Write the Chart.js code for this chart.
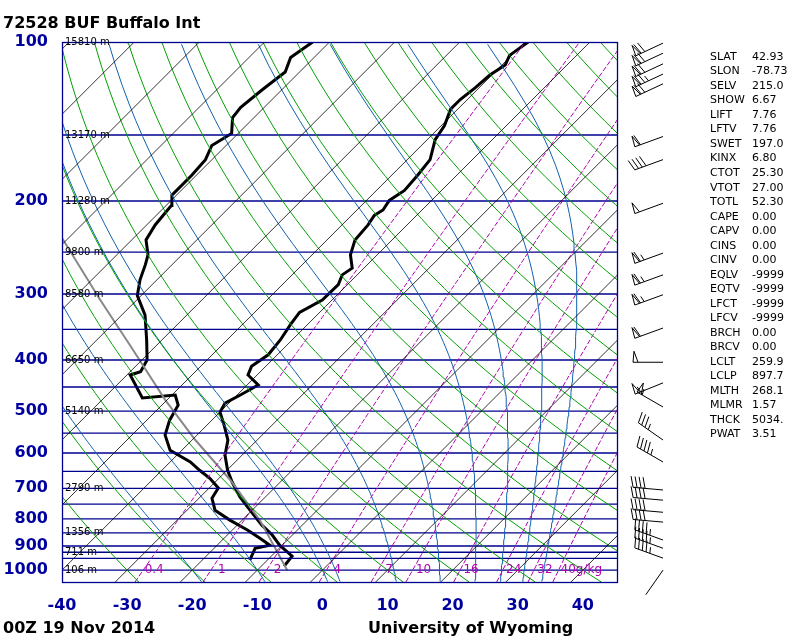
<!DOCTYPE html>
<html><head><meta charset="utf-8">
<script src="https://cdn.jsdelivr.net/npm/chart.js@4.4.1/dist/chart.umd.min.js"></script>
<style>html,body{margin:0;background:#fff}#wrap{width:800px;height:640px}</style>
</head><body><div id="wrap"><canvas id="c"></canvas></div>
<script>
// Sounding data (pressure hPa, temperature C)
const tempP = [983,941,897,858,822,770,727,681,647,606,567,531,502,483,466,446,427,411,391,367,343,325,308,288,276,268,253,237,222,213,208,199.5,191,179,167,153,144,134,128.5,122,115.5,110.5,106,100];
const tempT = [-6.5,-6.8,-10.4,-13.1,-16.2,-20.3,-23.9,-27.4,-29.9,-32.6,-34.5,-37.4,-40.0,-40.6,-39.5,-38.3,-41.4,-42.2,-41.4,-41.8,-42.6,-43.1,-41.5,-41.4,-42.3,-41.8,-44.1,-45.7,-46.0,-46.5,-46.0,-46.5,-45.7,-46.0,-46.5,-48.8,-49.5,-51.1,-51.1,-50.6,-50.3,-49.5,-50.3,-49.5];
const dewP = [957,909,897,870,840,804,770,731,699,670,647,624,593,555,520,487,466,472,427,421,400,367,329,302,282,264,253,237,222,204,195,179,167,157,149,139,133,123,114,107,100];
const dewT = [-12.7,-13.7,-11.9,-14.5,-17.6,-21.9,-25.7,-28.0,-28.6,-31.4,-34.2,-36.9,-41.8,-44.9,-46.5,-47.5,-49.5,-54.1,-59.5,-58.4,-59.2,-62.3,-66.4,-70.6,-72.6,-74.1,-75.2,-77.8,-78.7,-79.2,-80.7,-80.7,-81.0,-82.2,-81.0,-83.3,-83.6,-83.0,-82.2,-83.6,-82.6];
const parcelP = [1000,804,675,567,476,375,308,235];
const parcelT = [-5.4,-17.3,-28.0,-39.5,-50.3,-64.1,-75.6,-91.0];
// wind barbs: pressure, direction (deg), speed (kt)
const windP = [100.5,105,110,115,120,151,167,202,251,276,301,348,404,442,491,567,624,705,737,777,811,877,909,949,1000];
const windD = [245,245,245,245,245,250,250,250,250,250,250,250,270,248,300,305,300,275,275,275,275,290,290,290,215];
const windS = [70,70,70,75,70,60,40,50,65,65,65,60,50,55,55,35,45,40,40,40,40,45,45,45,0];
const isobars = [100,150,200,250,300,350,400,450,500,550,600,650,700,750,800,850,900,925,950,1000];
const pTicks = [100,200,300,400,500,600,700,800,900,1000];
const xTicks = [-40,-30,-20,-10,0,10,20,30,40];
const heightP = [100,150,200,250,300,400,500,700,850,925,1000];
const heightLbl = ['15810 m','13170 m','11280 m','9800 m','8580 m','6650 m','5140 m','2790 m','1356 m','711 m','106 m'];
const mixRatios = [0.4,1,2,4,7,10,16,24,32,40];
const mixLbl = ['0.4','1','2','4','7','10','16','24','32','40g/kg'];
const moistStart = [-20,-10,0,2,11,18,23.5,27.5,31,34];
const stnKeys = ['SLAT','SLON','SELV','SHOW','LIFT','LFTV','SWET','KINX','CTOT','VTOT','TOTL','CAPE','CAPV','CINS','CINV','EQLV','EQTV','LFCT','LFCV','BRCH','BRCV','LCLT','LCLP','MLTH','MLMR','THCK','PWAT'];
const stnVals = ['42.93','-78.73','215.0','6.67','7.76','7.76','197.0','6.80','25.30','27.00','52.30','0.00','0.00','0.00','0.00','-9999','-9999','-9999','-9999','0.00','0.00','259.9','897.7','268.1','1.57','5034.','3.51'];

const SKEW = 81.1;
const skx = (t, p) => t + SKEW * Math.log10(1000 / p);
const PMAX = 1053, PMIN = 100;

function line(ps, ts, color, width, dash) {
  return { data: ps.map((p, i) => ({ x: skx(ts[i], p), y: p })), showLine: true, pointRadius: 0,
    borderColor: color, borderWidth: width, borderDash: dash || [], fill: false };
}
const levels = [];
for (let p = PMAX; p >= PMIN - 0.1; p *= 0.97) levels.push(p);
levels.push(PMIN);

const ds = [];
for (let t = -160; t <= 40; t += 10) ds.push(line([PMAX, PMIN], [t, t], '#000000', 0.8));
for (let th = -30; th <= 200; th += 10) {
  ds.push(line(levels, levels.map(p => (th + 273.15) * Math.pow(p / 1000, 0.2857) - 273.15), '#00a000', 1));
}
function es(t) { return 6.112 * Math.exp(17.67 * t / (t + 243.5)); }
const step = (Tk, p, dp) => {
  const e = es(Tk - 273.15), rs = 0.622 * e / (p - e);
  const d = (287 * Tk + 2.5e6 * rs) / (1004 + 2.5e6 * 2.5e6 * rs * 0.622 / (287 * Tk * Tk)) / p;
  return Tk + d * dp;
};
moistStart.forEach(t0 => {
  let Tb = t0 + 273.15;
  for (let p = 1000; p < PMAX; p += 1) Tb = step(Tb, p, 1);
  const mp = [], mt = [];
  let Tk = Tb;
  for (let p = PMAX; p >= PMIN; p -= 2) { if (p % 10 < 2) { mp.push(p); mt.push(Tk - 273.15); } Tk = step(Tk, p, -2); }
  ds.push(line(mp, mt, '#1060b0', 1));
});
mixRatios.forEach(w => {
  const ps = levels.filter(p => p >= 100);
  ds.push(line(ps, ps.map(p => { const e = (w / 1000) * p / (0.622 + w / 1000); const l = Math.log(e / 6.112); return 243.5 * l / (17.67 - l); }), '#b000b0', 1, [5, 2]));
});
isobars.forEach(p => ds.push({ data: [{ x: -60, y: p }, { x: 60, y: p }], showLine: true, pointRadius: 0, borderColor: '#000090', borderWidth: 1.3 }));
ds.push(line(parcelP, parcelT, '#888888', 2));
ds.push(line(tempP, tempT, '#000000', 3));
ds.push(line(dewP, dewT, '#000000', 3));

const extras = {
  id: 'extras',
  afterDatasetsDraw(chart) {
    const { ctx, chartArea: a, scales: { x, y } } = chart;
    ctx.save();
    ctx.strokeStyle = '#000090'; ctx.lineWidth = 1.3;
    ctx.strokeRect(a.left + 0.5, a.top + 0.5, a.right - a.left, a.bottom - a.top);
    ctx.font = '10px DejaVu Sans'; ctx.fillStyle = '#000'; ctx.textBaseline = 'middle';
    heightP.forEach((p, i) => ctx.fillText(heightLbl[i], a.left + 3, y.getPixelForValue(p)));
    ctx.fillStyle = '#b000b0'; ctx.font = '12px DejaVu Sans';
    mixRatios.forEach((w, i) => {
      const e = (w / 1000) * 1000 / (0.622 + w / 1000), l = Math.log(e / 6.112);
      ctx.textAlign = i == 9 ? 'left' : 'center';
      ctx.fillText(mixLbl[i], x.getPixelForValue(243.5 * l / (17.67 - l)) + (i == 9 ? 2 : 11), y.getPixelForValue(1000));
    });
    // wind barbs
    ctx.strokeStyle = '#000'; ctx.lineWidth = 1;
    windP.forEach((p, i) => {
      const cx = 663, cy = y.getPixelForValue(p), r = windD[i] * Math.PI / 180;
      const dx = Math.sin(r), dy = -Math.cos(r), L = 30;
      const ex = cx + dx * L, ey = cy + dy * L;
      ctx.beginPath(); ctx.moveTo(cx, cy); ctx.lineTo(ex, ey);
      const px = -dy, py = dx;
      let s = windS[i], pos = 0;
      while (s >= 50) { const bx = ex - dx * pos, by = ey - dy * pos;
        ctx.moveTo(bx, by); ctx.lineTo(bx + px * 11 - dx * 1, by + py * 11 - dy * 1); ctx.lineTo(bx - dx * 5, by - dy * 5); s -= 50; pos += 6; }
      while (s >= 10) { const bx = ex - dx * pos, by = ey - dy * pos;
        ctx.moveTo(bx, by); ctx.lineTo(bx + px * 11 + dx * 3, by + py * 11 + dy * 3); s -= 10; pos += 4; }
      if (s >= 5) { if (pos == 0) pos = 4; const bx = ex - dx * pos, by = ey - dy * pos;
        ctx.moveTo(bx, by); ctx.lineTo(bx + px * 6 + dx * 1.5, by + py * 6 + dy * 1.5); }
      ctx.stroke();
    });
    ctx.fillStyle = '#000'; ctx.font = '11px DejaVu Sans'; ctx.textAlign = 'left';
    stnKeys.forEach((k, i) => { ctx.fillText(k, 710, 57 + i * 14.52); ctx.fillText(stnVals[i], 752, 57 + i * 14.52); });
    ctx.font = 'bold 16px DejaVu Sans'; ctx.textBaseline = 'alphabetic';
    ctx.fillText('72528 BUF Buffalo Int', 3, 28);
    ctx.fillText('00Z 19 Nov 2014', 3, 633);
    ctx.fillText('University of Wyoming', 368, 633);
    ctx.restore();
  }
};

new Chart(document.getElementById('c'), {
  type: 'scatter',
  data: { datasets: ds },
  plugins: [extras],
  options: {
    responsive: true, maintainAspectRatio: false, animation: false,
    layout: { padding: { top: 42, right: 183, left: 0, bottom: 0 } },
    plugins: { legend: { display: false }, tooltip: { enabled: false } },
    scales: {
      x: { type: 'linear', min: -40, max: 45.25, grid: { display: false }, border: { display: false },
        afterBuildTicks: s => { s.ticks = xTicks.map(v => ({ value: v })); },
        afterFit: s => { s.height = 58; },
        ticks: { color: '#0000a0', font: { family: 'DejaVu Sans', size: 16, weight: 'bold' }, maxRotation: 0, padding: 6 } },
      y: { type: 'logarithmic', min: PMIN, max: PMAX, reverse: true, grid: { display: false }, border: { display: false },
        afterBuildTicks: s => { s.ticks = pTicks.map(v => ({ value: v })); },
        afterFit: s => { s.width = 62; },
        ticks: { color: '#0000a0', font: { family: 'DejaVu Sans', size: 16, weight: 'bold' }, callback: v => String(v), padding: 6 } }
    }
  }
});
</script></body></html>
